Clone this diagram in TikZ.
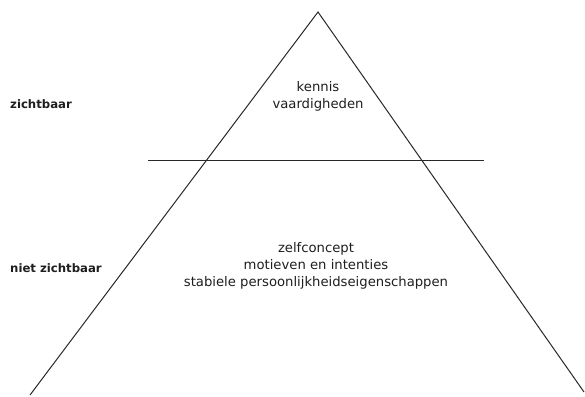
\documentclass[tikz,border=0pt]{standalone}
\usepackage{fontspec}
\setmainfont{DejaVu Sans}
\usepackage{xcolor}
\usetikzlibrary{positioning}
\definecolor{linegray}{RGB}{40,40,40}
\definecolor{textgray}{RGB}{30,30,30}

\begin{document}
\begin{tikzpicture}[x=1pt, y=-1pt, node distance=0pt]
    \tikzstyle{edge} = [draw=linegray, line width=1pt]
    \tikzstyle{level} = [font=\fontsize{11.7}{15}\selectfont\bfseries, text=textgray, anchor=west, inner sep=0pt]
    \tikzstyle{content} = [align=center, font=\fontsize{13.2}{17.2}\selectfont, text=textgray, inner sep=0pt]
    \useasboundingbox (0,0) rectangle (585,396);

    % Triangle corners
    \coordinate (top) at (318,12);
    \coordinate (left) at (30,395);
    \coordinate (right) at (584,392);

    % Dividing line
    \coordinate (div_start) at (148,160);
    \coordinate (div_end) at (484,160);

    % Pyramid
    \draw [edge, line join=miter] (left) -- (top) -- (right);
    \draw [edge] (div_start) -- (div_end);

    % Side labels
    \node [level] (visible) at (10,104) {zichtbaar};
    \node [level] (hidden) at (10,268) {niet zichtbaar};

    % Contents
    \node [content] (tip) at (318,96) {kennis\\vaardigheden};
    \node [content] (base) at (316,266) {zelfconcept\\motieven en intenties\\stabiele persoonlijkheidseigenschappen};
\end{tikzpicture}
\end{document}
